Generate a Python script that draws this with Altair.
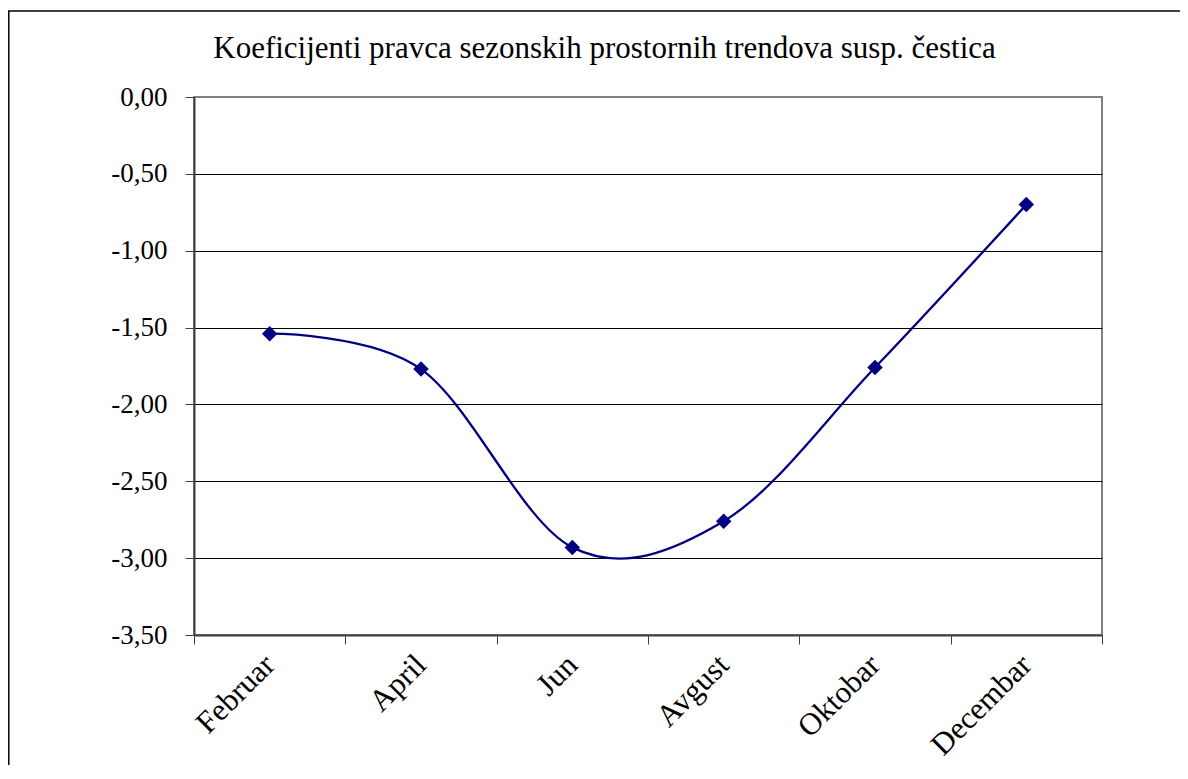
import altair as alt
import pandas as pd

months = ["Februar", "April", "Jun", "Avgust", "Oktobar", "Decembar"]
values = [-1.54, -1.77, -2.93, -2.76, -1.76, -0.70]
y_ticks = [0.0, -0.5, -1.0, -1.5, -2.0, -2.5, -3.0, -3.5]
title_text = "Koeficijenti pravca sezonskih prostornih trendova susp. čestica"

df = pd.DataFrame({"mjesec": months, "vrijednost": values})

FONT = "Liberation Serif"
NAVY = "#000080"

x_enc = alt.X(
    "mjesec:N",
    sort=months,
    bandPosition=0.5,
    scale=alt.Scale(type="band", domain=months, paddingInner=0, paddingOuter=0),
    axis=alt.Axis(
        title=None,
        labelAngle=315,
        labelAlign="right",
        labelBaseline="middle",
        labelFont=FONT,
        labelFontSize=31,
        labelColor="black",
        labelPadding=16,
        tickBand="extent",
        tickSize=9,
        tickColor="#404040",
        domainColor="#404040",
        domainWidth=2,
        grid=False,
    ),
)
y_enc = alt.Y(
    "vrijednost:Q",
    scale=alt.Scale(domain=[-3.5, 0], nice=False, zero=False),
    axis=alt.Axis(
        title=None,
        values=y_ticks,
        labelExpr="replace(replace(format(datum.value, '.2f'), '.', ','), '\u2212', '-')",
        labelFont=FONT,
        labelFontSize=27,
        labelColor="black",
        labelPadding=18,
        tickSize=9,
        tickColor="#404040",
        domainColor="#404040",
        domainWidth=2,
        grid=True,
        gridColor={"condition": {"test": "datum.value == 0", "value": "#808080"}, "value": "black"},
        gridWidth=1,
    ),
)

base = alt.Chart(df)

line = base.mark_line(color=NAVY, strokeWidth=2.3, interpolate="cardinal").encode(x=x_enc, y=y_enc)
points = base.mark_point(shape="diamond", filled=True, size=240, color=NAVY, opacity=1).encode(
    x=x_enc, y="vrijednost:Q"
)

title = alt.Chart(pd.DataFrame({"t": [title_text]})).mark_text(
    font=FONT, fontSize=31, align="center", baseline="alphabetic", color="black"
).encode(text="t:N", x=alt.value(410.5), y=alt.value(-39))

frame_left = alt.Chart(pd.DataFrame({"a": [0]})).mark_rule(color="black", strokeWidth=1.5).encode(
    x=alt.value(-185.2), y=alt.value(-86), y2=alt.value(700)
)
frame_top = alt.Chart(pd.DataFrame({"a": [0]})).mark_rule(color="black", strokeWidth=1.5).encode(
    x=alt.value(-186), x2=alt.value(1000), y=alt.value(-86)
)

chart = (
    alt.layer(frame_left, frame_top, line, points, title)
    .properties(
        width=908,
        height=538,
        padding={"left": 186, "top": 89, "right": 78, "bottom": 130},
        autosize=alt.AutoSizeParams(type="none"),
        background="white",
    )
    .configure_view(stroke="#808080", strokeWidth=2)
)

chart.save("out.html", embed_options={"renderer": "svg", "actions": False})
